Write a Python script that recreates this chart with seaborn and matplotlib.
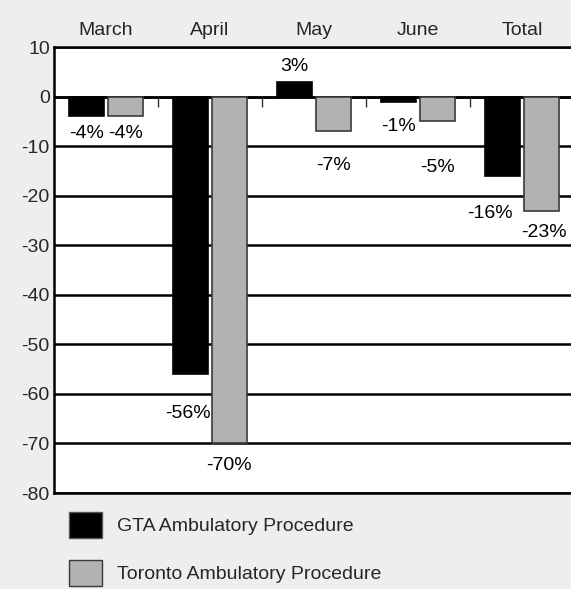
import matplotlib
matplotlib.use("Agg")
import matplotlib.pyplot as plt
from matplotlib.patches import Patch
import numpy as np
import pandas as pd
import seaborn as sns

# Datos
meses = ["March", "April", "May", "June", "Total"]
gta = [-4, -56, 3, -1, -16]
toronto = [-4, -70, -7, -5, -23]
series = ["GTA Ambulatory Procedure", "Toronto Ambulatory Procedure"]
colores = ["#000000", "#b2b2b2"]
bordes = ["#000000", "#3a3a3a"]

# desplazamiento de las etiquetas (unidades de datos), como en el original
nudge_y = [[-3.5, -8, 3, -5, -7.6], [-3.5, -4.5, -7, -9.3, -4.5]]
nudge_x = [[0, -0.03, 0, 0, -0.12], [0, 0, 0, 0, 0.03]]

df = pd.DataFrame({
    "mes": meses * 2,
    "cambio": gta + toronto,
    "serie": [series[0]] * len(meses) + [series[1]] * len(meses),
})

sns.set_style("white")
plt.rcParams["font.family"] = ["Liberation Sans", "DejaVu Sans"]
plt.rcParams["axes.unicode_minus"] = False
fs = 14
fondo = "#eeeeee"

fig = plt.figure(figsize=(5.71, 5.89), dpi=100, facecolor=fondo)
ax = fig.add_axes([54 / 571, 96 / 589, 520 / 571, 446 / 589])
ax.set_facecolor("white")

sns.barplot(data=df, x="mes", y="cambio", hue="serie", palette=colores,
            width=0.74, gap=0.09, legend=False, ax=ax, zorder=3)

for i, cont in enumerate(ax.containers):
    for j, bar in enumerate(cont):
        bar.set_edgecolor(bordes[i])
        bar.set_linewidth(1.2)
        val = [gta, toronto][i][j]
        xc = bar.get_x() + bar.get_width() / 2 + nudge_x[i][j]
        ax.text(xc, val + nudge_y[i][j], f"{val}%", ha="center", va="center",
                fontsize=fs, color="black", zorder=4)

ax.set_ylim(-80, 10)
ax.set_xlim(-0.5, 4.5)
ax.set_yticks(np.arange(-80, 11, 10))
ax.yaxis.grid(True, color="black", linewidth=1.8, zorder=1)
ax.set_axisbelow(True)
ax.axhline(0, color="black", linewidth=1.8, zorder=2)
ax.vlines(np.arange(0.5, 4, 1), -2.2, 0, color="#333333", linewidth=1, zorder=2)

ax.xaxis.tick_top()
ax.tick_params(axis="x", length=0, pad=6, labelsize=fs)
ax.tick_params(axis="y", length=0, pad=3, labelsize=fs)
ax.set_xlabel("")
ax.set_ylabel("")
for s in ["left", "top", "bottom"]:
    ax.spines[s].set_visible(True)
    ax.spines[s].set_color("black")
    ax.spines[s].set_linewidth(1.8)
ax.spines["right"].set_visible(False)

handles = [Patch(facecolor=colores[k], edgecolor=bordes[k] if k else "#555555", linewidth=1)
           for k in range(2)]
fig.legend(handles, series, loc="upper left", bbox_to_anchor=(69 / 571, 1 - 512 / 589),
           frameon=False, fontsize=fs, handlelength=1.7, handleheight=1.7,
           handletextpad=0.75, labelspacing=1.1, borderpad=0, borderaxespad=0)

fig.savefig("out.png", dpi=100, facecolor=fondo)
